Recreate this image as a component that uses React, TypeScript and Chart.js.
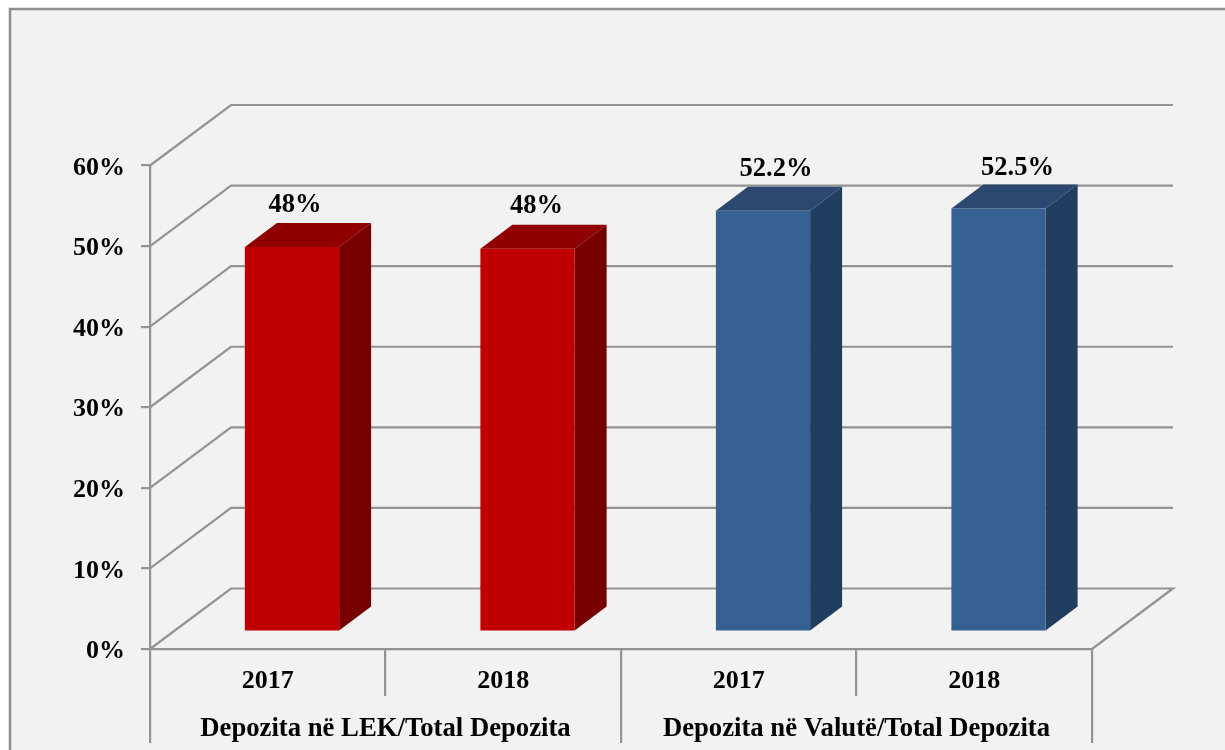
import React, { useEffect, useRef } from "react";
import { Chart, registerables } from "chart.js";

Chart.register(...registerables);

const years = ["2017", "2018", "2017", "2018"];
const groups = ["Depozita në LEK/Total Depozita", "Depozita në Valutë/Total Depozita"];
const shares = [47.7, 47.5, 52.2, 52.5];
const shareLabels = ["48%", "48%", "52.2%", "52.5%"];
const frontColors = ["#c00000", "#c00000", "#376092", "#376092"];
const topColors = ["#900000", "#900000", "#2c4870", "#2c4870"];
const sideColors = ["#790000", "#790000", "#213d5f", "#213d5f"];

const FONT = '"Liberation Serif"';
const LINE = "#939393";
const WALL_DX = 81;
const WALL_DY = 60.5;
const BAR_DX = 24.25;
const BAR_DY = 17.5;
const DEPTH_X = 32;
const DEPTH_Y = 24;
const LABEL_NUDGE_X = [3, 9, 13, 19];
const LABEL_GAP = [42, 42.5, 41.5, 40.5];
const Y_LABEL_SHIFT = 2.5;

const chrome = {
  id: "chrome",
  beforeDraw(chart: any) {
    const { ctx, width, height, scales, chartArea } = chart;
    ctx.save();
    ctx.fillStyle = "#ffffff";
    ctx.fillRect(0, 0, width, height);
    ctx.fillStyle = "#f2f2f2";
    ctx.fillRect(10, 9, width - 10, height - 9);
    ctx.strokeStyle = "#8e8e8e";
    ctx.lineWidth = 2.5;
    ctx.beginPath();
    ctx.moveTo(10, height);
    ctx.lineTo(10, 9);
    ctx.lineTo(width, 9);
    ctx.stroke();
    ctx.restore();
    // Tick labels sit slightly below their tick marks in the reference.
    scales.y.getLabelItems(chartArea).forEach((item: any) => {
      if (!item.nudged) {
        item.options.translation[1] += Y_LABEL_SHIFT;
        item.nudged = true;
      }
    });
  },
  beforeDatasetsDraw(chart: any) {
    const { ctx, chartArea, scales } = chart;
    const { left, right } = chartArea;
    ctx.save();
    ctx.strokeStyle = LINE;
    ctx.lineWidth = 2.2;
    ctx.lineJoin = "miter";
    scales.y.ticks.forEach((t: any) => {
      const y = scales.y.getPixelForValue(t.value);
      ctx.beginPath();
      ctx.moveTo(left, y);
      ctx.lineTo(left + WALL_DX, y - WALL_DY);
      ctx.lineTo(right + WALL_DX, y - WALL_DY);
      if (t.value === 0) ctx.lineTo(right, y);
      ctx.stroke();
    });
    ctx.restore();

    // Bars stand inside the box: shift them, then add their top and side faces.
    ctx.save();
    ctx.translate(BAR_DX, -BAR_DY);
    chart.getDatasetMeta(0).data.forEach((bar: any, i: number) => {
      const half = bar.width / 2;
      const l = bar.x - half;
      const r = bar.x + half;
      ctx.fillStyle = topColors[i];
      ctx.beginPath();
      ctx.moveTo(l, bar.y);
      ctx.lineTo(l + DEPTH_X, bar.y - DEPTH_Y);
      ctx.lineTo(r + DEPTH_X, bar.y - DEPTH_Y);
      ctx.lineTo(r, bar.y);
      ctx.closePath();
      ctx.fill();
      ctx.fillStyle = sideColors[i];
      ctx.beginPath();
      ctx.moveTo(r, bar.y);
      ctx.lineTo(r + DEPTH_X, bar.y - DEPTH_Y);
      ctx.lineTo(r + DEPTH_X, bar.base - DEPTH_Y);
      ctx.lineTo(r, bar.base);
      ctx.closePath();
      ctx.fill();
    });
  },
  afterDatasetsDraw(chart: any) {
    const { ctx } = chart;
    ctx.restore();
    ctx.save();
    ctx.fillStyle = "#000000";
    ctx.font = `bold 26.5px ${FONT}`;
    ctx.textAlign = "center";
    ctx.textBaseline = "middle";
    chart.getDatasetMeta(0).data.forEach((bar: any, i: number) => {
      ctx.fillText(
        shareLabels[i],
        bar.x + BAR_DX + LABEL_NUDGE_X[i],
        bar.y - BAR_DY - LABEL_GAP[i]
      );
    });
    ctx.restore();
  },
};

const tickFont = { family: FONT, size: 26, weight: "bold" as const };
const groupFont = { family: FONT, size: 26.7, weight: "bold" as const };

export default function App() {
  const ref = useRef<HTMLCanvasElement | null>(null);

  useEffect(() => {
    if (!ref.current) return;
    const chart = new Chart(ref.current, {
      type: "bar",
      data: {
        labels: years,
        datasets: [
          {
            data: shares,
            backgroundColor: frontColors,
            borderWidth: 0,
            barPercentage: 0.4,
            categoryPercentage: 1,
            clip: false,
          } as any,
        ],
      },
      options: {
        animation: false,
        responsive: false,
        layout: { autoPadding: false, padding: { left: 0, top: 165.5, right: 133, bottom: 7 } },
        plugins: { legend: { display: false }, tooltip: { enabled: false } },
        scales: {
          y: {
            min: 0,
            max: 60,
            ticks: {
              stepSize: 10,
              padding: 16,
              color: "#000000",
              font: tickFont,
              callback: (v: any) => `${v}%`,
            },
            grid: { drawOnChartArea: false, tickLength: 9, color: LINE, lineWidth: 2.2 },
            border: { color: LINE, width: 2.2 },
            afterFit: (s: any) => {
              s.width = 150;
            },
          },
          x: {
            position: "bottom",
            offset: true,
            ticks: {
              padding: -30,
              color: "#000000",
              font: tickFont,
              maxRotation: 0,
              autoSkip: false,
            },
            grid: { offset: true, drawOnChartArea: false, tickLength: 47, color: LINE, lineWidth: 2.2 },
            border: { color: LINE, width: 2.2 },
            afterFit: (s: any) => {
              s.height = 47;
            },
          },
          x2: {
            type: "category",
            position: "bottom",
            labels: groups,
            offset: true,
            ticks: {
              padding: -30,
              color: "#000000",
              font: groupFont,
              maxRotation: 0,
              autoSkip: false,
            },
            grid: { offset: true, drawOnChartArea: false, tickLength: 47, color: LINE, lineWidth: 2.2 },
            border: { display: false },
            afterFit: (s: any) => {
              s.height = 47;
            },
          },
        },
      } as any,
      plugins: [chrome],
    });
    return () => chart.destroy();
  }, []);

  return (
    <div style={{ position: "fixed", left: 0, top: 0, width: 1225, height: 750, overflow: "hidden" }}>
      <canvas ref={ref} width={1225} height={750} style={{ display: "block" }} />
    </div>
  );
}
